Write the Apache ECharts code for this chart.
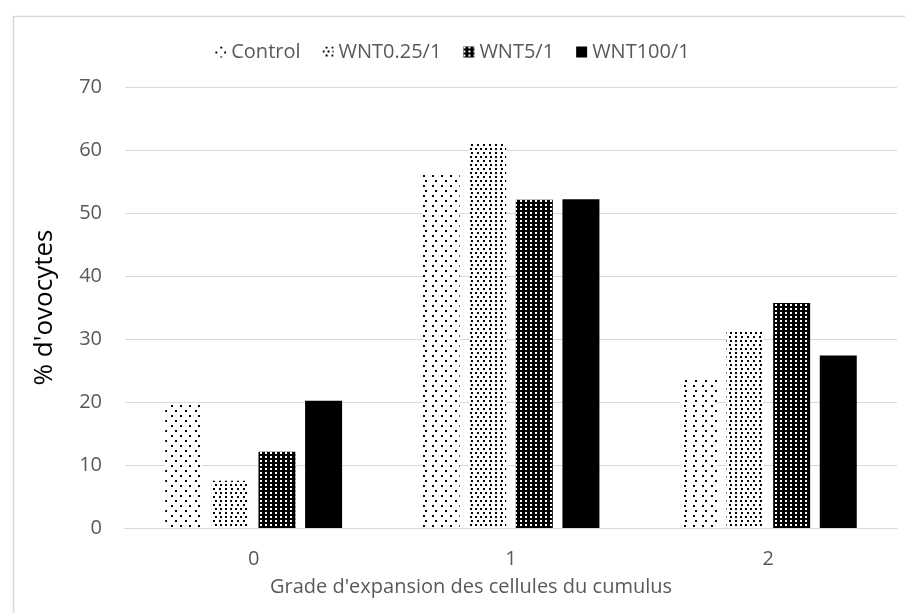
<!DOCTYPE html>
<html>
<head>
<meta charset="utf-8">
<script src="https://cdn.jsdelivr.net/npm/echarts@6/dist/echarts.min.js"></script>
<style>
  html, body { margin: 0; padding: 0; background: #fff; }
  #main { width: 905px; height: 613px; }
</style>
</head>
<body>
<div id="main"></div>
<script>
// grades (x axis)
var categories = ['0', '1', '2'];
var yTicks = [0, 10, 20, 30, 40, 50, 60, 70];

// % d'ovocytes per grade
var control = [19.6, 56.5, 23.6];
var wnt025 = [7.5, 61.2, 31.3];
var wnt5 = [12.1, 52.1, 35.7];
var wnt100 = [20.2, 52.2, 27.4];

var seriesNames = ['Control', 'WNT0.25/1', 'WNT5/1', 'WNT100/1'];
var xTitle = "Grade d'expansion des cellules du cumulus";
var yTitle = "% d'ovocytes";

var font = '"Open Sans", "Noto Sans", sans-serif';
var gray = '#595959';

// motifs de remplissage (pointillés)
var decals = [
  { color: '#000', symbol: 'rect', symbolSize: 1, dashArrayX: [[1.5, 6.8], [0, 4.15, 1.5, 2.65]], dashArrayY: [1.5, 2.8] },
  { color: '#000', symbol: 'rect', symbolSize: 1, dashArrayX: [[1.5, 2.6], [0, 2.05, 1.5, 0.55]], dashArrayY: [1.4, 1.3] },
  { color: '#fff', symbol: 'rect', symbolSize: 1, dashArrayX: [1.6, 2.4], dashArrayY: [1.6, 1.9] },
  null
];
var fills = ['#fff', '#fff', '#000', '#000'];
var datas = [control, wnt025, wnt5, wnt100];

var series = datas.map(function(d, i){
  var style = { color: fills[i] };
  if (decals[i]) style.decal = decals[i];
  return {
    name: seriesNames[i],
    type: 'bar',
    data: d,
    barWidth: 37,
    barGap: '26%',
    itemStyle: style,
    emphasis: { disabled: true }
  };
});

var chart = echarts.init(document.getElementById('main'), null, { renderer: 'canvas' });

chart.setOption({
  animation: false,
  backgroundColor: '#fff',
  textStyle: { fontFamily: font },
  graphic: [{
    type: 'rect',
    left: 11,
    top: 14,
    shape: { width: 1000, height: 1000 },
    style: { fill: 'none', stroke: '#d9d9d9', lineWidth: 1.5 },
    silent: true
  }, {
    //titre de l'axe X, centré sur la figure
    type: 'text',
    x: 471,
    y: 587,
    style: {
      text: xTitle,
      fill: gray,
      font: '20px ' + font,
      align: 'center',
      verticalAlign: 'middle'
    },
    silent: true
  }],
  legend: {
    data: seriesNames,
    top: 37,
    left: 'center',
    icon: 'rect',
    itemWidth: 11,
    itemHeight: 11,
    itemGap: 22,
    textStyle: { color: gray, fontSize: 20, fontFamily: font }
  },
  grid: { left: 125, right: 8, top: 87, bottom: 85, containLabel: false },
  xAxis: {
    type: 'category',
    data: categories,
    axisLine: { show: true, lineStyle: { color: '#d9d9d9', width: 1 } },
    axisTick: { show: false },
    axisLabel: { color: gray, fontSize: 20, margin: 21, fontFamily: font }
  },
  yAxis: {
    type: 'value',
    min: yTicks[0],
    max: yTicks[yTicks.length - 1],
    interval: 10,
    name: yTitle,
    nameLocation: 'middle',
    nameRotate: 90,
    nameGap: 67,
    nameTextStyle: { color: '#000', fontSize: 26, fontFamily: font },
    axisLine: { show: false },
    axisTick: { show: false },
    axisLabel: { color: gray, fontSize: 20, margin: 23, fontFamily: font },
    splitLine: { lineStyle: { color: '#d9d9d9', width: 1 } }
  },
  series: series
});
</script>
</body>
</html>
